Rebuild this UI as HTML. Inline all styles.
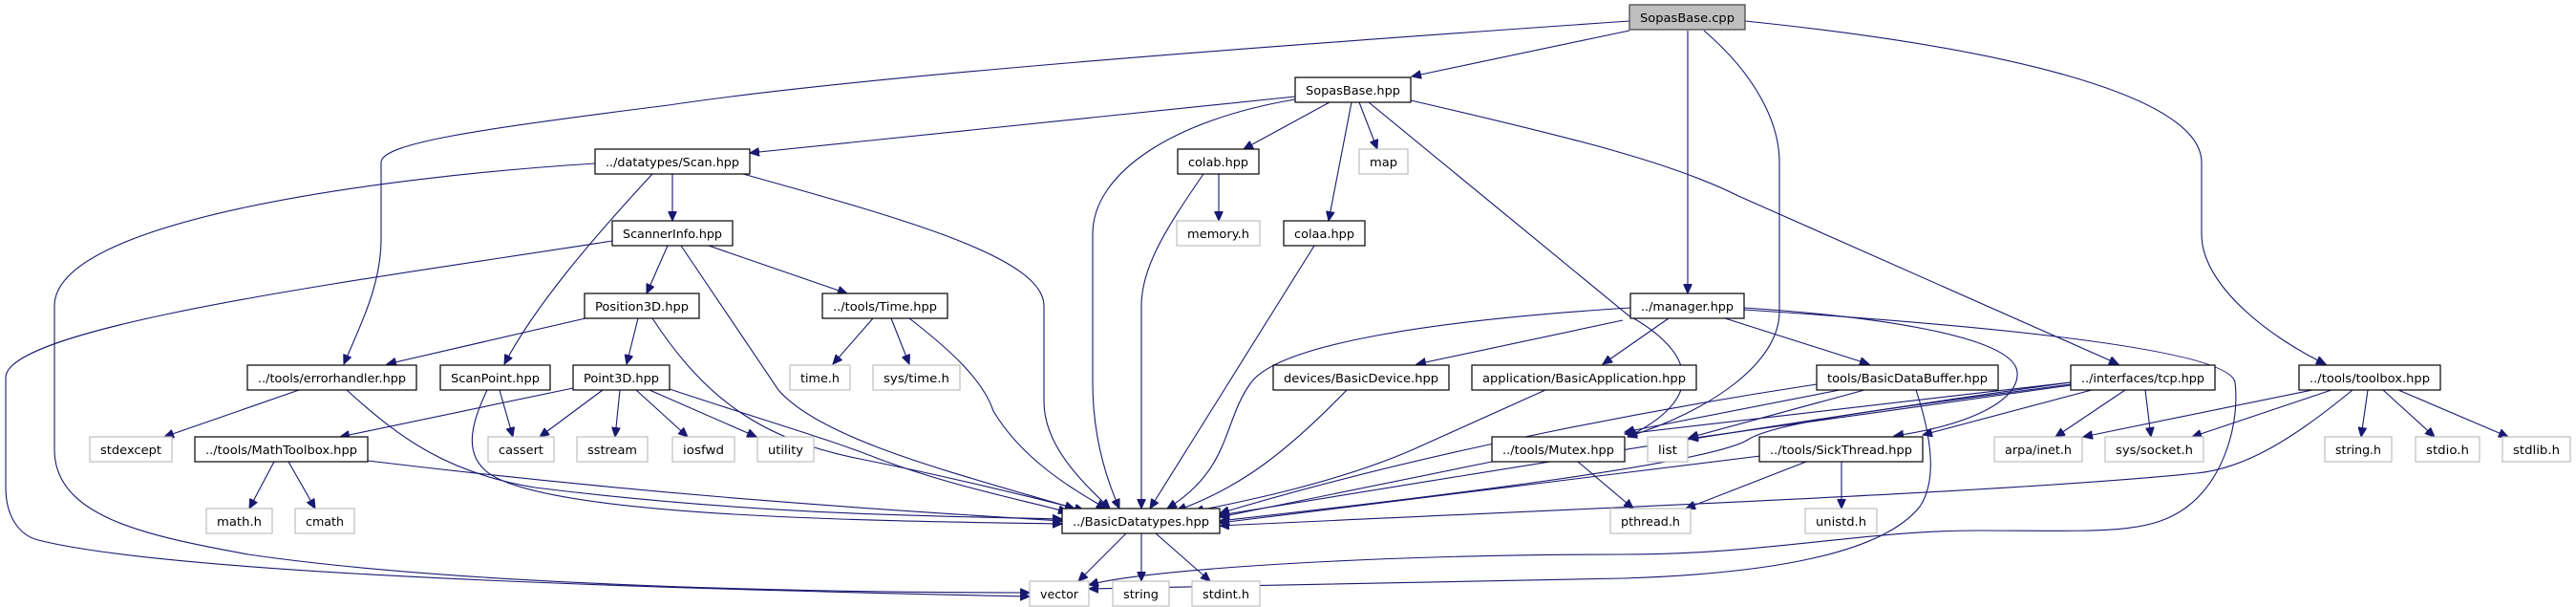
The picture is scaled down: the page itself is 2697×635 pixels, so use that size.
<!DOCTYPE html>
<html><head><meta charset="utf-8"><style>
html,body{margin:0;padding:0;background:#fff;}
svg{display:block;}
text{font-family:"DejaVu Sans","Liberation Sans",sans-serif;font-size:12.5px;fill:#000;}
.n{fill:#fff;stroke:#000;stroke-width:1.2;}
.g{fill:#fff;stroke:#bfbfbf;stroke-width:1.2;}
.e{fill:none;stroke:#191970;stroke-width:1.1;marker-end:url(#a);}
</style></head><body>
<svg width="2697" height="635" viewBox="0 0 2697 635" xmlns="http://www.w3.org/2000/svg">
<defs><marker id="a" markerUnits="userSpaceOnUse" markerWidth="11" markerHeight="9" refX="10" refY="4.5" orient="auto"><path d="M0,0 L10,4.5 L0,9 z" fill="#191970" stroke="#191970"/></marker></defs>
<g>
<path class="e" d="M1706,32 L1478,80"/>
<path class="e" d="M1706,22 C1300,50 900,80 700,110 C500,135 399,150 399,170 L399,250 C399,300 375,345 360,381"/>
<path class="e" d="M1767,32 L1767,307"/>
<path class="e" d="M1784,32 C1840,80 1863,130 1863,170 L1863,326 C1863,380 1790,430 1704,457"/>
<path class="e" d="M1827,22 C2100,50 2305,100 2305,170 L2305,245 C2305,300 2380,355 2435,381"/>
<path class="e" d="M1356,101 L785,160"/>
<path class="e" d="M1356,104 C1230,125 1144,180 1144,245 L1144,400 C1144,460 1160,505 1172,532"/>
<path class="e" d="M1392,107 L1302,156"/>
<path class="e" d="M1423,107 L1442,156"/>
<path class="e" d="M1415,107 L1391,231"/>
<path class="e" d="M1433,107 L1705,330 C1760,360 1800,410 1704,457"/>
<path class="e" d="M1477,105 C1650,145 1750,170 1820,205 L2218,381"/>
<path class="e" d="M623,171 C400,185 57,230 57,320 L57,470 C57,540 150,560 260,580 C500,615 900,620 1078,620"/>
<path class="e" d="M704,182 L704,231"/>
<path class="e" d="M683,182 C620,250 560,320 528,381"/>
<path class="e" d="M778,182 C950,230 1093,270 1093,320 L1093,420 C1093,470 1140,510 1162,532"/>
<path class="e" d="M641,252 C400,290 6,340 6,395 L6,510 C6,540 20,560 40,565 C200,605 800,618 1078,624"/>
<path class="e" d="M699,257 L677,307"/>
<path class="e" d="M742,257 L887,307"/>
<path class="e" d="M713,257 L815,408 C860,460 1000,495 1125,532"/>
<path class="e" d="M613,333 L405,381"/>
<path class="e" d="M668,333 L656,381"/>
<path class="e" d="M683,333 C740,420 800,460 900,480 C1000,500 1080,520 1135,534"/>
<path class="e" d="M914,333 L872,381"/>
<path class="e" d="M933,333 L952,381"/>
<path class="e" d="M952,333 C1000,370 1030,400 1040,430 C1070,480 1120,510 1158,532"/>
<path class="e" d="M313,408 L172,457"/>
<path class="e" d="M363,408 C420,460 470,495 560,510 C800,540 1000,540 1112,543"/>
<path class="e" d="M523,408 L537,457"/>
<path class="e" d="M510,408 C495,440 480,480 520,500 C600,540 900,545 1112,548"/>
<path class="e" d="M600,406 L356,457"/>
<path class="e" d="M631,408 L565,457"/>
<path class="e" d="M649,408 L644,457"/>
<path class="e" d="M666,408 L720,457"/>
<path class="e" d="M680,408 L792,457"/>
<path class="e" d="M701,407 C800,440 870,460 920,480 C1000,510 1080,525 1118,536"/>
<path class="e" d="M287,483 L261,532"/>
<path class="e" d="M302,483 L330,532"/>
<path class="e" d="M385,482 C700,520 950,535 1112,545"/>
<path class="e" d="M1276,182 L1276,231"/>
<path class="e" d="M1260,182 C1220,240 1195,280 1195,320 L1195,532"/>
<path class="e" d="M1376,257 L1204,532"/>
<path class="e" d="M1707,322 C1500,335 1340,360 1310,400 C1280,440 1290,490 1222,532"/>
<path class="e" d="M1699,335 L1483,381"/>
<path class="e" d="M1747,333 L1678,381"/>
<path class="e" d="M1806,333 L1957,381"/>
<path class="e" d="M1826,322 C1950,330 2110,350 2112,390 C2114,420 2060,445 1983,456"/>
<path class="e" d="M1826,324 C2150,345 2335,370 2340,400 C2345,440 2330,500 2290,530 C2250,560 2200,555 2070,555 C1950,555 1850,580 1700,580 C1450,580 1200,595 1140,612"/>
<path class="e" d="M2006,408 C2020,450 2030,500 2010,530 C1970,580 1850,600 1700,605 L1140,616"/>
<path class="e" d="M1410,408 C1350,470 1300,510 1232,534"/>
<path class="e" d="M1618,408 L1480,470 C1400,505 1300,525 1250,535"/>
<path class="e" d="M1562,483 L1277,541"/>
<path class="e" d="M1652,483 L1710,532"/>
<path class="e" d="M1902,402 C1750,425 1500,470 1277,537"/>
<path class="e" d="M1926,408 L1701,452"/>
<path class="e" d="M1952,408 L1768,458"/>
<path class="e" d="M2168,400 C1950,430 1700,470 1277,539"/>
<path class="e" d="M2168,402 C2000,425 1860,440 1830,460 C1790,485 1500,520 1277,545"/>
<path class="e" d="M2168,400 L1701,454"/>
<path class="e" d="M2168,403 L1768,459"/>
<path class="e" d="M2190,408 L2013,455"/>
<path class="e" d="M2225,408 L2152,457"/>
<path class="e" d="M2246,408 L2252,457"/>
<path class="e" d="M1891,483 L1765,532"/>
<path class="e" d="M1928,483 L1928,532"/>
<path class="e" d="M1843,477 L1277,547"/>
<path class="e" d="M2421,408 L2181,457"/>
<path class="e" d="M2441,408 L2295,457"/>
<path class="e" d="M2463,408 C2400,460 2350,490 2300,495 C2100,515 1700,530 1277,550"/>
<path class="e" d="M2479,408 L2472,457"/>
<path class="e" d="M2495,408 L2549,457"/>
<path class="e" d="M2511,408 L2626,457"/>
<path class="e" d="M1179,558 L1129,608"/>
<path class="e" d="M1195,558 L1195,608"/>
<path class="e" d="M1210,558 L1267,608"/>
</g>
<g>
<rect x="1706" y="5" width="121" height="26" fill="#bfbfbf" stroke="#404040" stroke-width="1.2"/><text x="1766.5" y="23" text-anchor="middle" textLength="99" lengthAdjust="spacingAndGlyphs">SopasBase.cpp</text>
<rect class="n" x="1356" y="81" width="121" height="26"/><text x="1416.5" y="99" text-anchor="middle" textLength="99" lengthAdjust="spacingAndGlyphs">SopasBase.hpp</text>
<rect class="n" x="623" y="156" width="162" height="26"/><text x="704" y="174" text-anchor="middle" textLength="140" lengthAdjust="spacingAndGlyphs">../datatypes/Scan.hpp</text>
<rect class="n" x="1233" y="156" width="85" height="26"/><text x="1275.5" y="174" text-anchor="middle" textLength="63" lengthAdjust="spacingAndGlyphs">colab.hpp</text>
<rect class="g" x="1423" y="156" width="51" height="26"/><text x="1448.5" y="174" text-anchor="middle" textLength="29" lengthAdjust="spacingAndGlyphs">map</text>
<rect class="n" x="641" y="231" width="126" height="26"/><text x="704" y="249" text-anchor="middle" textLength="104" lengthAdjust="spacingAndGlyphs">ScannerInfo.hpp</text>
<rect class="g" x="1232" y="231" width="87" height="26"/><text x="1275.5" y="249" text-anchor="middle" textLength="65" lengthAdjust="spacingAndGlyphs">memory.h</text>
<rect class="n" x="1344" y="231" width="85" height="26"/><text x="1386.5" y="249" text-anchor="middle" textLength="63" lengthAdjust="spacingAndGlyphs">colaa.hpp</text>
<rect class="n" x="612" y="307" width="120" height="26"/><text x="672" y="325" text-anchor="middle" textLength="98" lengthAdjust="spacingAndGlyphs">Position3D.hpp</text>
<rect class="n" x="861" y="307" width="131" height="26"/><text x="926.5" y="325" text-anchor="middle" textLength="109" lengthAdjust="spacingAndGlyphs">../tools/Time.hpp</text>
<rect class="n" x="1707" y="307" width="119" height="26"/><text x="1766.5" y="325" text-anchor="middle" textLength="97" lengthAdjust="spacingAndGlyphs">../manager.hpp</text>
<rect class="n" x="259" y="382" width="177" height="26"/><text x="347.5" y="400" text-anchor="middle" textLength="155" lengthAdjust="spacingAndGlyphs">../tools/errorhandler.hpp</text>
<rect class="n" x="461" y="382" width="115" height="26"/><text x="518.5" y="400" text-anchor="middle" textLength="93" lengthAdjust="spacingAndGlyphs">ScanPoint.hpp</text>
<rect class="n" x="600" y="382" width="101" height="26"/><text x="650.5" y="400" text-anchor="middle" textLength="79" lengthAdjust="spacingAndGlyphs">Point3D.hpp</text>
<rect class="g" x="827" y="382" width="63" height="26"/><text x="858.5" y="400" text-anchor="middle" textLength="41" lengthAdjust="spacingAndGlyphs">time.h</text>
<rect class="g" x="914" y="382" width="91" height="26"/><text x="959.5" y="400" text-anchor="middle" textLength="69" lengthAdjust="spacingAndGlyphs">sys/time.h</text>
<rect class="n" x="1333" y="382" width="184" height="26"/><text x="1425" y="400" text-anchor="middle" textLength="162" lengthAdjust="spacingAndGlyphs">devices/BasicDevice.hpp</text>
<rect class="n" x="1541" y="382" width="235" height="26"/><text x="1658.5" y="400" text-anchor="middle" textLength="213" lengthAdjust="spacingAndGlyphs">application/BasicApplication.hpp</text>
<rect class="n" x="1902" y="382" width="190" height="26"/><text x="1997" y="400" text-anchor="middle" textLength="168" lengthAdjust="spacingAndGlyphs">tools/BasicDataBuffer.hpp</text>
<rect class="n" x="2168" y="382" width="151" height="26"/><text x="2243.5" y="400" text-anchor="middle" textLength="129" lengthAdjust="spacingAndGlyphs">../interfaces/tcp.hpp</text>
<rect class="n" x="2407" y="382" width="148" height="26"/><text x="2481" y="400" text-anchor="middle" textLength="126" lengthAdjust="spacingAndGlyphs">../tools/toolbox.hpp</text>
<rect class="g" x="94" y="457" width="86" height="26"/><text x="137" y="475" text-anchor="middle" textLength="64" lengthAdjust="spacingAndGlyphs">stdexcept</text>
<rect class="n" x="204" y="457" width="181" height="26"/><text x="294.5" y="475" text-anchor="middle" textLength="159" lengthAdjust="spacingAndGlyphs">../tools/MathToolbox.hpp</text>
<rect class="g" x="511" y="457" width="69" height="26"/><text x="545.5" y="475" text-anchor="middle" textLength="47" lengthAdjust="spacingAndGlyphs">cassert</text>
<rect class="g" x="604" y="457" width="74" height="26"/><text x="641" y="475" text-anchor="middle" textLength="52" lengthAdjust="spacingAndGlyphs">sstream</text>
<rect class="g" x="704" y="457" width="65" height="26"/><text x="736.5" y="475" text-anchor="middle" textLength="43" lengthAdjust="spacingAndGlyphs">iosfwd</text>
<rect class="g" x="793" y="457" width="59" height="26"/><text x="822.5" y="475" text-anchor="middle" textLength="37" lengthAdjust="spacingAndGlyphs">utility</text>
<rect class="n" x="1562" y="457" width="139" height="26"/><text x="1631.5" y="475" text-anchor="middle" textLength="117" lengthAdjust="spacingAndGlyphs">../tools/Mutex.hpp</text>
<rect class="g" x="1725" y="457" width="42" height="26"/><text x="1746" y="475" text-anchor="middle" textLength="20" lengthAdjust="spacingAndGlyphs">list</text>
<rect class="n" x="1842" y="457" width="171" height="26"/><text x="1927.5" y="475" text-anchor="middle" textLength="149" lengthAdjust="spacingAndGlyphs">../tools/SickThread.hpp</text>
<rect class="g" x="2088" y="457" width="92" height="26"/><text x="2134" y="475" text-anchor="middle" textLength="70" lengthAdjust="spacingAndGlyphs">arpa/inet.h</text>
<rect class="g" x="2204" y="457" width="103" height="26"/><text x="2255.5" y="475" text-anchor="middle" textLength="81" lengthAdjust="spacingAndGlyphs">sys/socket.h</text>
<rect class="g" x="2434" y="457" width="70" height="26"/><text x="2469" y="475" text-anchor="middle" textLength="48" lengthAdjust="spacingAndGlyphs">string.h</text>
<rect class="g" x="2529" y="457" width="67" height="26"/><text x="2562.5" y="475" text-anchor="middle" textLength="45" lengthAdjust="spacingAndGlyphs">stdio.h</text>
<rect class="g" x="2620" y="457" width="71" height="26"/><text x="2655.5" y="475" text-anchor="middle" textLength="49" lengthAdjust="spacingAndGlyphs">stdlib.h</text>
<rect class="g" x="216" y="532" width="69" height="26"/><text x="250.5" y="550" text-anchor="middle" textLength="47" lengthAdjust="spacingAndGlyphs">math.h</text>
<rect class="g" x="309" y="532" width="62" height="26"/><text x="340" y="550" text-anchor="middle" textLength="40" lengthAdjust="spacingAndGlyphs">cmath</text>
<rect class="n" x="1112" y="532" width="165" height="26"/><text x="1194.5" y="550" text-anchor="middle" textLength="143" lengthAdjust="spacingAndGlyphs">../BasicDatatypes.hpp</text>
<rect class="g" x="1686" y="532" width="84" height="26"/><text x="1728" y="550" text-anchor="middle" textLength="62" lengthAdjust="spacingAndGlyphs">pthread.h</text>
<rect class="g" x="1890" y="532" width="75" height="26"/><text x="1927.5" y="550" text-anchor="middle" textLength="53" lengthAdjust="spacingAndGlyphs">unistd.h</text>
<rect class="g" x="1078" y="608" width="62" height="26"/><text x="1109" y="626" text-anchor="middle" textLength="40" lengthAdjust="spacingAndGlyphs">vector</text>
<rect class="g" x="1165" y="608" width="59" height="26"/><text x="1194.5" y="626" text-anchor="middle" textLength="37" lengthAdjust="spacingAndGlyphs">string</text>
<rect class="g" x="1248" y="608" width="71" height="26"/><text x="1283.5" y="626" text-anchor="middle" textLength="49" lengthAdjust="spacingAndGlyphs">stdint.h</text>
</g>
</svg>
</body></html>
